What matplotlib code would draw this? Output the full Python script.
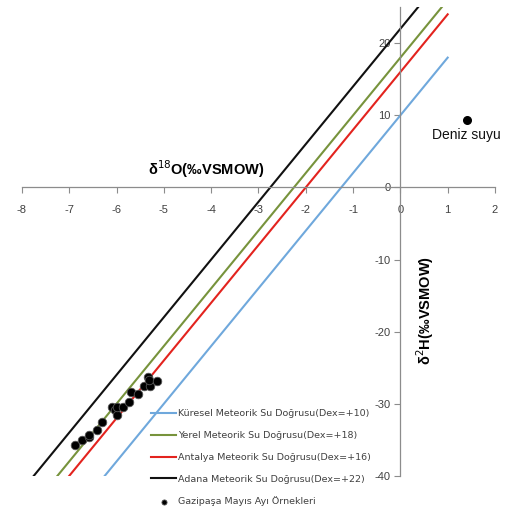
import numpy as np
import matplotlib
matplotlib.use("Agg")
import matplotlib.pyplot as plt

plt.rcParams["axes.unicode_minus"] = False

# Meteorik su doğruları: d2H = 8 * d18O + Dex
line_names = [
    "Küresel Meteorik Su Doğrusu(Dex=+10)",
    "Yerel Meteorik Su Doğrusu(Dex=+18)",
    "Antalya Meteorik Su Doğrusu(Dex=+16)",
    "Adana Meteorik Su Doğrusu(Dex=+22)",
]
line_dex = [10, 18, 16, 22]
line_colors = ["#6fa8dc", "#77933c", "#e3231e", "#111111"]
line_x = [-8, 1]

# Gazipaşa Mayıs ayı örnekleri
d18o = [-6.87, -6.73, -6.59, -6.58, -6.42, -6.31, -6.10, -6.03, -5.98, -6.00,
        -5.86, -5.74, -5.69, -5.55, -5.41, -5.34, -5.29, -5.31, -5.14]
d2h = [-35.7, -35.0, -34.6, -34.3, -33.7, -32.5, -30.5, -30.9, -31.5, -30.4,
       -30.4, -29.7, -28.4, -28.7, -27.6, -26.3, -27.5, -26.7, -26.9]

# Deniz suyu
sea_x, sea_y = 1.4, 9.3

fig = plt.figure(figsize=(5.09, 5.09), dpi=100)
ax = fig.add_axes([0.043, 0.065, 0.9295, 0.921])

xs = np.array(line_x, dtype=float)
for name, dex, c in zip(line_names, line_dex, line_colors):
    ax.plot(xs, 8 * xs + dex, color=c, lw=1.5, label=name)

ax.scatter(d18o, d2h, s=38, color="black", edgecolors="#555555", linewidths=0.6,
           zorder=3, label="Gazipaşa Mayıs Ayı Örnekleri")
ax.scatter([sea_x], [sea_y], s=30, color="black", zorder=3)
ax.text(sea_x, sea_y - 1.1, "Deniz suyu", ha="center", va="top", fontsize=10,
        family="Liberation Sans", color="#111111")

ax.set_xlim(-8, 2)
ax.set_ylim(-40, 25)
ax.set_xticks(range(-8, 3))
ax.set_yticks(range(-40, 21, 10))

for s in ["top", "right"]:
    ax.spines[s].set_visible(False)
ax.spines["left"].set_position(("data", 0))
ax.spines["bottom"].set_position(("data", 0))
for s in ["left", "bottom"]:
    ax.spines[s].set_color("#8c8c8c")
    ax.spines[s].set_linewidth(0.9)
ax.tick_params(axis="x", direction="out", length=4, width=0.8, color="#8c8c8c",
               labelsize=8, labelcolor="#404040", pad=9)
ax.tick_params(axis="y", direction="out", length=4, width=0.8, color="#8c8c8c",
               labelsize=8, labelcolor="#404040", pad=3)
for lab in ax.get_xticklabels() + ax.get_yticklabels():
    lab.set_family("Liberation Sans")

ax.text(-4.1, 1.0, "δ$^{18}$O(‰VSMOW)", ha="center", va="bottom", fontsize=10.5,
        fontweight="bold", family="Liberation Sans")
ax.text(0.53, -17, "δ$^{2}$H(‰VSMOW)", ha="center", va="center", fontsize=10.5,
        fontweight="bold", family="Liberation Sans", rotation=90)

handles, labels = ax.get_legend_handles_labels()
leg = fig.legend(handles, labels, loc="upper left", bbox_to_anchor=(0.288, 0.205),
                 frameon=False, fontsize=6.8, handlelength=2.6, handletextpad=0.2,
                 labelspacing=1.35, borderpad=0, markerscale=0.6)
for t in leg.get_texts():
    t.set_color("#404040")

plt.savefig("out.png", dpi=100)
